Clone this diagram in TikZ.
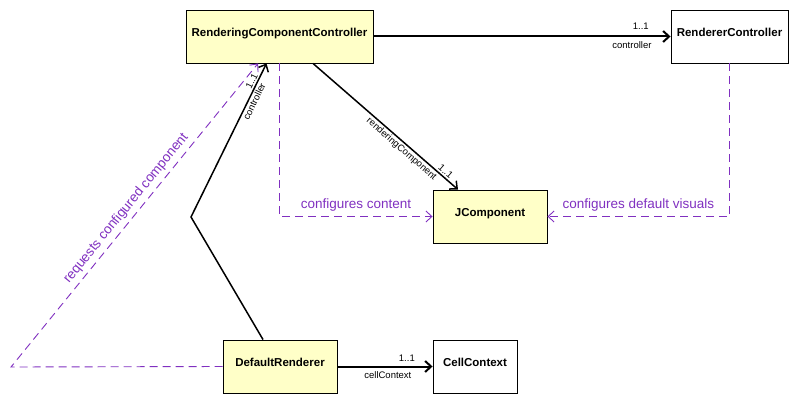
\documentclass[tikz,border=0pt]{standalone}
\usepackage{fontspec}
\setmainfont{Liberation Sans}
\usetikzlibrary{arrows.meta,positioning}
\definecolor{ClassYellow}{HTML}{FFFFC8}
\definecolor{NotePurple}{HTML}{8030C0}

\begin{document}
\begin{tikzpicture}[x=1pt,y=-1pt,
 classbox/.style={draw=black,line width=0.9pt,minimum height=53pt,inner sep=2pt,
 text depth=8.5pt,font=\fontsize{11.5}{13}\selectfont\bfseries},
 assoc/.style={line width=2pt,-{Straight Barb[length=6pt,width=11pt]}},
 depend/.style={draw=NotePurple,line width=0.9pt,dash pattern=on 8pt off 5pt,
 -{Straight Barb[length=6pt,width=11pt]}},
 role/.style={font=\fontsize{9.5}{11}\selectfont,inner sep=1.5pt},
 note/.style={font=\fontsize{13.5}{15}\selectfont,text=NotePurple,inner sep=2pt}]
\useasboundingbox (0,0) rectangle (799,404);
\foreach \nm/\cx/\cy/\w/\col/\txt in {rcc/279.5/36.5/187/ClassYellow/RenderingComponentController,
 rc/729.5/36.5/117/white/RendererController,
 jc/490/216.5/114/ClassYellow/JComponent,
 dr/280/366.5/114/ClassYellow/DefaultRenderer,
 cc/475/366.5/84/white/CellContext} {
 \node[classbox,fill=\col,minimum width=\w pt] (\nm) at (\cx,\cy) {\txt};
}
% associations
\draw[assoc] (rcc.east) -- node[role,above=4pt,pos=.9]{1..1}
 node[role,below=3pt,pos=.87]{controller} (rc.west);
\draw[assoc,line width=1.5pt] ([xshift=33.5pt]rcc.south) --
 node[role,sloped,below,pos=.64]{renderingComponent}
 node[role,sloped,above,pos=.89]{1..1} ([xshift=-32pt]jc.north);
\coordinate (bend) at (191,217);
\draw[assoc,line width=1.5pt] ([xshift=-17pt]dr.north) -- (bend) --
 node[role,sloped,below,pos=.77]{controller}
 node[role,sloped,above,pos=.87]{1..1} ([xshift=-13pt]rcc.south);
\draw[assoc] (dr.east) -- node[role,above=3pt,pos=.73]{1..1}
 node[role,below=3pt,pos=.53]{cellContext} (cc.west);
% dependencies
\draw[depend] (rcc.south) |- node[note,above=3pt,pos=.75]{configures content} (jc.west);
\draw[depend] (rc.south) |- node[note,above=3pt,pos=.75]{configures default visuals} (jc.east);
\coordinate (turn) at (11,367);
\draw[depend] (dr.west) -- (turn) --
 node[note,sloped,above=2pt,pos=.5]{requests configured component} ([xshift=-21.5pt]rcc.south);
\end{tikzpicture}
\end{document}
